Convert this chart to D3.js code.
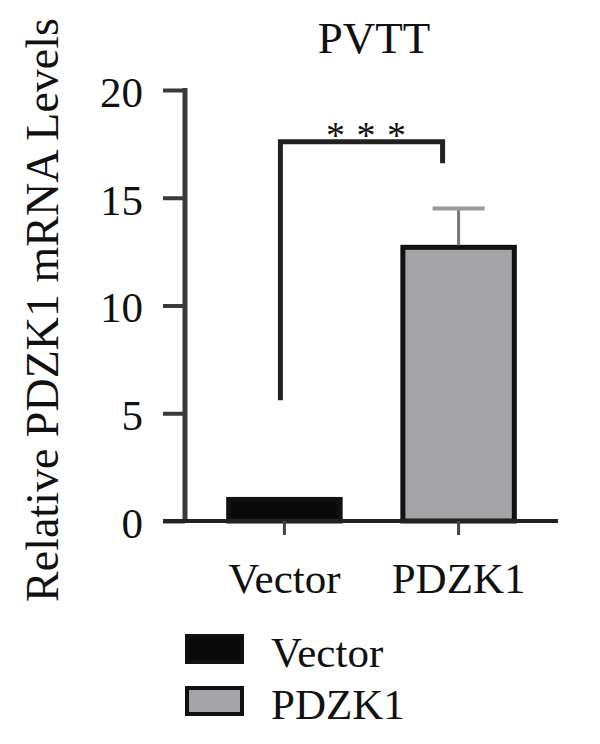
<!DOCTYPE html>
<html><head><meta charset="utf-8">
<script src="https://cdn.jsdelivr.net/npm/d3@7"></script>
<style>body{margin:0;background:#fff}svg{display:block}text{font-family:"Liberation Serif","DejaVu Serif",serif;fill:#111}</style>
</head><body><svg id="c" width="600" height="744"></svg>
<script>
const categories = ["Vector", "PDZK1"];
const values = [1.0, 12.7];
const errors = [0.0, 1.8];
const fills = ["#0a0a0a", "#a3a3a8"];
const yTicks = [0, 5, 10, 15, 20];
const title = "PVTT";
const yLabel = "Relative PDZK1 mRNA Levels";
const significance = "* * *";

const svg = d3.select("#c");
const y = d3.scaleLinear().domain([0, 20]).range([521, 90]);
const x = d3.scaleBand().domain(categories).range([213, 530]).paddingInner(0.36).paddingOuter(0.09);

// title
svg.append("text").attr("x", 374).attr("y", 53).attr("text-anchor", "middle").attr("font-size", 45).text(title);
// y label
svg.append("text").attr("transform", "translate(58,310) rotate(-90)").attr("text-anchor", "middle").attr("font-size", 46).text(yLabel);

// y axis
const yAxis = svg.append("g").attr("transform", "translate(185,0)")
  .call(d3.axisLeft(y).tickValues(yTicks).tickSize(22).tickPadding(20));
yAxis.select(".domain").remove();
yAxis.selectAll(".tick line").attr("stroke", "#3a3a3a").attr("stroke-width", 4);
yAxis.selectAll(".tick text").attr("font-size", 43).attr("font-family", "Liberation Serif, serif").attr("fill", "#111").attr("dy", "0.38em");
svg.append("line").attr("x1", 185).attr("x2", 185).attr("y1", y(20) - 2).attr("y2", y(0) + 2).attr("stroke", "#3a3a3a").attr("stroke-width", 5);

// bars
svg.selectAll(".bar").data(categories).join("rect")
  .attr("x", d => x(d)).attr("width", x.bandwidth())
  .attr("y", (d, i) => y(values[i])).attr("height", (d, i) => y(0) - y(values[i]))
  .attr("fill", (d, i) => fills[i]).attr("stroke", "#111").attr("stroke-width", 5);

// error bars
categories.forEach((c, i) => {
  if (errors[i] <= 0) return;
  const cx = x(c) + x.bandwidth() / 2;
  svg.append("line").attr("x1", cx).attr("x2", cx).attr("y1", y(values[i]) - 2).attr("y2", y(values[i] + errors[i])).attr("stroke", "#777").attr("stroke-width", 3);
  svg.append("line").attr("x1", cx - 26).attr("x2", cx + 26).attr("y1", y(values[i] + errors[i])).attr("y2", y(values[i] + errors[i])).attr("stroke", "#999").attr("stroke-width", 4);
});

// x axis
svg.append("line").attr("x1", 163).attr("x2", 558).attr("y1", y(0)).attr("y2", y(0)).attr("stroke", "#222").attr("stroke-width", 4);
categories.forEach(c => {
  const cx = x(c) + x.bandwidth() / 2;
  svg.append("line").attr("x1", cx).attr("x2", cx).attr("y1", y(0)).attr("y2", y(0) + 14).attr("stroke", "#444").attr("stroke-width", 3);
  svg.append("text").attr("x", cx).attr("y", 593).attr("text-anchor", "middle").attr("font-size", 43).text(c);
});

// significance bracket
const xl = x(categories[0]) + x.bandwidth() / 2 - 4;
const xr = x(categories[1]) + x.bandwidth() / 2 - 16;
svg.append("path").attr("d", `M${xl},${y(5.6)}V${y(17.6)}H${xr}V${y(16.6)}`)
  .attr("fill", "none").attr("stroke", "#222").attr("stroke-width", 5);
svg.append("text").attr("x", (xl + xr) / 2 + 5).attr("y", 148).attr("text-anchor", "middle").attr("font-size", 38).attr("letter-spacing", "1").text(significance);

// legend
const lg = svg.append("g");
categories.forEach((c, i) => {
  const ly = 636 + i * 52;
  lg.append("rect").attr("x", 187).attr("y", ly).attr("width", 55).attr("height", 26).attr("fill", fills[i]).attr("stroke", "#111").attr("stroke-width", 4);
  lg.append("text").attr("x", 271).attr("y", ly + 31).attr("font-size", 43).text(c);
});
</script></body></html>
